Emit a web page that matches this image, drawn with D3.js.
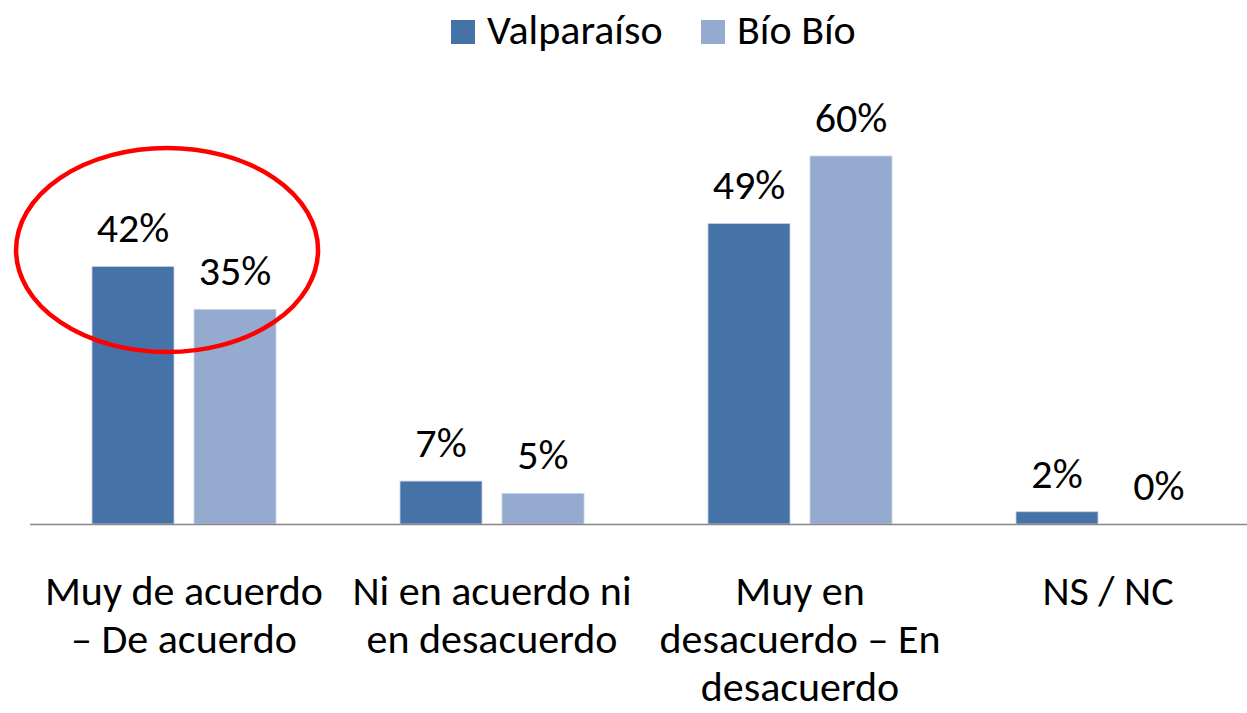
<!DOCTYPE html>
<html>
<head>
<meta charset="utf-8">
<script src="https://cdnjs.cloudflare.com/ajax/libs/d3/7.8.5/d3.min.js"></script>
<style>
  html, body { margin: 0; padding: 0; background: #fff; }
  svg { display: block; font-family: Carlito, Calibri, Lato, sans-serif; }
</style>
</head>
<body>
<div id="chart"></div>
<script>
var width  = 1247;
var height = 713;
var fontSize = '42px';

// data
var categories = [
  ["Muy de acuerdo", "\u2013 De acuerdo"],
  ["Ni en acuerdo ni", "en desacuerdo"],
  ["Muy en", "desacuerdo \u2013 En", "desacuerdo"],
  ["NS / NC"]
];
var series     = ["Valpara\u00edso", "B\u00edo B\u00edo"];
var valparaiso = [0.42, 0.07, 0.49, 0.02];
var bioBio     = [0.35, 0.05, 0.60, 0.00];
var colors     = ["#4673a7", "#95aacf"];

var rows = categories.map(function(c, i) {
  return { key: i, lines: c, values: [valparaiso[i], bioBio[i]] };
});

var svg = d3.select('#chart')
  .append('svg')
  .attr('width', width)
  .attr('height', height);

var x0 = d3.scaleBand()
  .domain(rows.map(function(d) { return d.key; }))
  .range([30, 1262])
  .padding(0);

var bw = x0.bandwidth();
var x1 = d3.scaleBand()
  .domain(series)
  .range([bw * 0.2013, bw * 0.7987])
  .paddingInner(0.196);

var y = d3.scaleLinear()
  .domain([0, 0.6])
  .range([524, 156]);

var fmt = d3.format('.0%');

var groups = svg.selectAll('g.cat')
  .data(rows)
  .enter()
  .append('g')
  .attr('class', 'cat')
  .attr('transform', function(d) { return 'translate(' + x0(d.key) + ',0)'; });

var bars = groups.selectAll('g.bar')
  .data(function(d) {
    return d.values.map(function(v, j) { return { s: series[j], v: v, j: j }; });
  })
  .enter()
  .append('g')
  .attr('class', 'bar');

bars.filter(function(d) { return d.v > 0; })
  .append('rect')
  .attr('x', function(d) { return x1(d.s); })
  .attr('y', function(d) { return y(d.v); })
  .attr('width', x1.bandwidth())
  .attr('height', function(d) { return y(0) - y(d.v); })
  .style('fill', function(d) { return colors[d.j]; })
  .style('stroke', '#c9d4e6')
  .style('stroke-width', 0.8);

bars.append('text')
  .attr('x', function(d) { return x1(d.s) + x1.bandwidth() / 2; })
  .attr('y', function(d) { return y(d.v) - 24; })
  .attr('text-anchor', 'middle')
  .style('font-size', fontSize)
  .style('fill', '#000')
  .text(function(d) { return fmt(d.v); });

// axis line
svg.append('line')
  .attr('x1', 30).attr('x2', width)
  .attr('y1', y(0) + 0.5).attr('y2', y(0) + 0.5)
  .style('stroke', '#878787')
  .style('stroke-width', 1.6);

// category labels
groups.append('text')
  .attr('text-anchor', 'middle')
  .style('font-size', fontSize)
  .style('fill', '#000')
  .selectAll('tspan')
  .data(function(d) { return d.lines; })
  .enter()
  .append('tspan')
  .attr('x', bw / 2)
  .attr('y', function(d, i) { return 605 + i * 48; })
  .text(function(d) { return d; });

// legend
var legendX = [451, 701];
var legend = svg.selectAll('g.legend')
  .data(series)
  .enter()
  .append('g')
  .attr('class', 'legend')
  .attr('transform', function(d, i) { return 'translate(' + legendX[i] + ',20)'; });

legend.append('rect')
  .attr('width', 24).attr('height', 24)
  .style('fill', function(d, i) { return colors[i]; });

legend.append('text')
  .attr('x', 36)
  .attr('y', 24)
  .style('font-size', fontSize)
  .style('fill', '#000')
  .text(function(d) { return d; });

// red highlight ellipse around the first group
svg.append('ellipse')
  .attr('cx', x0(0) + bw * 0.445)
  .attr('cy', 250)
  .attr('rx', 151)
  .attr('ry', 102)
  .style('fill', 'none')
  .style('stroke', '#f00')
  .style('stroke-width', 4.5);
</script>
</body>
</html>
